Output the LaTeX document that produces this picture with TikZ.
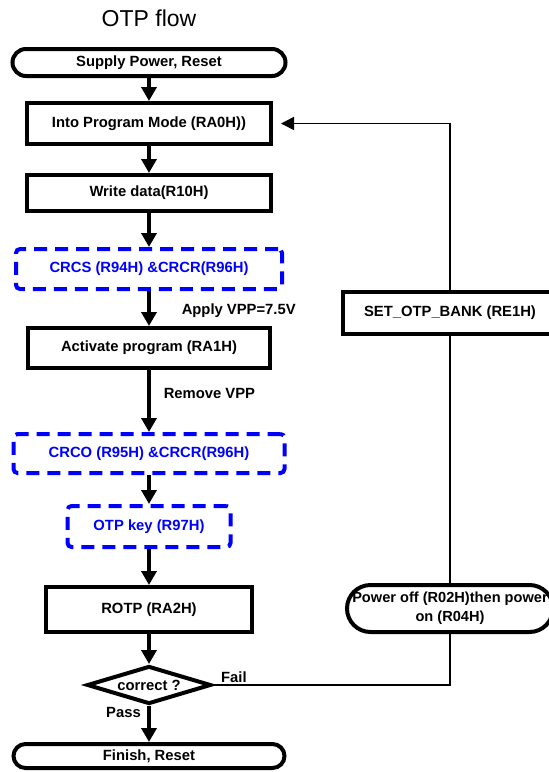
\documentclass[tikz,border=0pt]{standalone}
\usepackage{fontspec}
\setmainfont{Liberation Sans}
\usetikzlibrary{positioning,shapes.geometric,arrows.meta}
\tikzstyle{process}=[rectangle, draw=black, line width=4pt, text centered, inner sep=0pt,
        font=\bfseries\fontsize{14.8}{19}\selectfont]
\tikzstyle{terminal}=[process, rounded corners=13.5pt]
\tikzstyle{crcbox}=[process, draw=blue, text=blue, dash pattern=on 13pt off 8pt, rounded corners=4pt]
\tikzstyle{decision}=[diamond, draw=black, line width=4pt, inner sep=0pt, aspect=3,
        font=\bfseries\fontsize{14.8}{19}\selectfont]
\tikzstyle{note}=[inner sep=0pt, font=\bfseries\fontsize{14.8}{19}\selectfont]
\tikzstyle{flow}=[line width=3.5pt, -{Triangle[width=15pt,length=14pt]}]
\tikzstyle{loopline}=[line width=1.6pt]

\begin{document}
\begin{tikzpicture}[x=1pt, y=-1pt]
        \path[use as bounding box, fill=white] (0,0) rectangle (549,772);
        \node (title) at (149,18) {\fontsize{23}{26}\selectfont OTP flow};
        % main column
        \node (start) [terminal, minimum width=273pt, minimum height=27pt] at (149,62.5) {Supply Power, Reset};
        \node (mode) [process, minimum width=244pt, minimum height=41pt, below=23pt of start] {Into Program Mode (RA0H))};
        \node (write) [process, minimum width=244pt, minimum height=36pt, below=27pt of mode] {Write data(R10H)};
        \node (crcs) [crcbox, minimum width=266pt, minimum height=40pt, below=34pt of write] {CRCS (R94H) \&CRCR(R96H)};
        \node (act) [process, minimum width=242pt, minimum height=40pt, below=35pt of crcs] {Activate program (RA1H)};
        \node (crco) [crcbox, minimum width=271pt, minimum height=39pt, below=62pt of act] {CRCO (R95H) \&CRCR(R96H)};
        \node (key) [crcbox, minimum width=163pt, minimum height=41pt, below=29pt of crco] {OTP key (R97H)};
        \node (rotp) [process, minimum width=206pt, minimum height=45pt, below=36pt of key] {ROTP (RA2H)};
        \node (check) [decision, minimum width=124pt, minimum height=38pt, below=30pt of rotp] {correct ?};
        \node (finish) [terminal, minimum width=271pt, minimum height=24pt, rounded corners=12pt, below=36pt of check] {Finish, Reset};
        % retry column
        \node (setbank) [process, minimum width=214pt, minimum height=42pt] at (450,313) {SET\_OTP\_BANK (RE1H)};
        \node (power) [terminal, align=center, minimum width=206pt, minimum height=47pt, rounded corners=23.5pt,
          font=\bfseries\fontsize{14.6}{19}\selectfont] at (450,608.5)
        {Power off (R02H)then power\\on (R04H)};

        \draw[flow] (start) -- (mode);
        \draw[flow] (mode) -- (write);
        \draw[flow] (write) -- (crcs);
        \draw[flow] (crcs) -- node[note, right=31pt, yshift=-2.5pt] {Apply VPP=7.5V} (act);
        \draw[flow] (act) -- node[note, right=13pt, yshift=8pt] {Remove VPP} (crco);
        \draw[flow] (crco) -- (key);
        \draw[flow] (key) -- (rotp);
        \draw[flow] (rotp) -- (check);
        \draw[flow] (check) -- (finish);
        \node[note, anchor=north east, xshift=-8pt, yshift=-1pt] at (check.south) {Pass};
        \node[note, anchor=south west, xshift=8pt, yshift=2pt] at (check.east) {Fail};

        \draw[loopline] (check.east) -| (power.south);
        \draw[loopline] (power) -- (setbank);
        \draw[loopline, -{Triangle[width=13pt,length=13pt]}, shorten >=8pt] (setbank.north) |- (mode.east);
\end{tikzpicture}
\end{document}
